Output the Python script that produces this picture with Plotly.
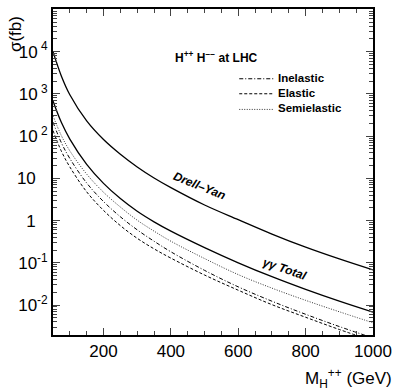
import plotly.graph_objects as go

# ---- data ----
mass = [50, 75, 100, 150, 200, 250, 300, 350, 400, 500, 600, 700, 800, 900, 1000]
drell_yan = [10000, 2630, 955, 229, 83, 37.2, 18.6, 10.2, 6.03, 2.34, 1.05, 0.479, 0.234, 0.123, 0.0676]
gg_total = [676, 209, 85.1, 21.4, 7.59, 3.31, 1.66, 0.933, 0.562, 0.229, 0.1, 0.0468, 0.0234, 0.0123, 0.00676]
semielastic = [302, 102, 44.7, 12.6, 4.68, 2.09, 1.02, 0.562, 0.324, 0.126, 0.0525, 0.0251, 0.0129, 0.00692, 0.0038]
inelastic = [214, 69.2, 29.5, 7.76, 2.82, 1.23, 0.603, 0.324, 0.182, 0.0661, 0.0269, 0.0123, 0.00603, 0.00309, 0.00166]
elastic = [135, 43.7, 18.6, 4.79, 1.74, 0.759, 0.380, 0.214, 0.129, 0.0513, 0.0224, 0.0102, 0.00513, 0.00263, 0.00141]

x_ticks = [200, 400, 600, 800, 1000]
x_ticktext = ["200", "400", "600", "800", "1000"]
y_ticks = [1e-2, 1e-1, 1, 10, 1e2, 1e3, 1e4]
y_ticktext = ["10<sup>-2</sup>", "10<sup>-1</sup>", "1\u2002\u2009", "10\u2002\u2009",
              "10<sup> 2</sup>", "10<sup> 3</sup>", "10<sup> 4</sup>"]
y_minor = [m * 10.0 ** k for k in range(-3, 5) for m in range(2, 10)]

legend_names = ["Inelastic", "Elastic", "Semielastic"]
legend_dashes = ["4px,2px,1px,2px", "3px,2px", "1px,1.5px"]
legend_colors = ["black", "black", "#333"]

FONT = "Liberation Sans, Arial, sans-serif"

fig = go.Figure()
fig.add_trace(go.Scatter(x=mass, y=drell_yan, mode="lines", line=dict(color="black", width=1.3, shape="spline"),
                         showlegend=False))
fig.add_trace(go.Scatter(x=mass, y=gg_total, mode="lines", line=dict(color="black", width=1.3, shape="spline"),
                         showlegend=False))
for series, dash, col, nm in zip([inelastic, elastic, semielastic], legend_dashes, legend_colors, legend_names):
    fig.add_trace(go.Scatter(x=mass, y=series, mode="lines", name=nm, showlegend=False,
                             line=dict(color=col, width=1, dash=dash, shape="spline")))

# manual legend (compact rows like the original)
leg_line_y = [0.786, 0.740, 0.692]
for yy, dash, col, nm in zip(leg_line_y, legend_dashes, legend_colors, legend_names):
    fig.add_shape(type="line", xref="paper", yref="paper", x0=0.582, x1=0.689, y0=yy, y1=yy,
                  line=dict(color=col, width=1, dash=dash))
    fig.add_annotation(text="<b>%s</b>" % nm, xref="paper", yref="paper", x=0.70, y=yy + 0.003,
                       xanchor="left", yanchor="middle", showarrow=False, borderpad=0,
                       font=dict(size=11.5))

fig.update_layout(
    width=399, height=391,
    margin=dict(l=53, r=20, t=7, b=56),
    paper_bgcolor="white", plot_bgcolor="white",
    font=dict(family=FONT, size=17, color="black"),
    showlegend=False,
    xaxis=dict(range=[50, 1000], tickmode="array", tickvals=x_ticks, ticktext=x_ticktext,
               ticks="inside", ticklen=7, tickwidth=1.2, showline=True, linewidth=1.8, linecolor="black",
               mirror="allticks", showgrid=False, zeroline=False,
               minor=dict(dtick=50, tick0=0, ticks="inside", ticklen=4, tickwidth=1, showgrid=False),
               tickfont=dict(size=17)),
    yaxis=dict(type="log", range=[-2.71, 5.01], tickmode="array", tickvals=y_ticks, ticktext=y_ticktext,
               ticks="inside", ticklen=7, tickwidth=1.2, showline=True, linewidth=1.8, linecolor="black",
               mirror="allticks", showgrid=False, zeroline=False,
               minor=dict(tickmode="array", tickvals=y_minor, ticks="inside", ticklen=4, tickwidth=1,
                          showgrid=False),
               tickfont=dict(size=17)),
)

fig.add_annotation(text="σ(fb)", xref="paper", yref="paper", x=-0.115, y=0.985, xanchor="center",
                   yanchor="top", textangle=-90, showarrow=False, font=dict(size=17))
fig.add_annotation(text="M<sub>H</sub><sup>++</sup> (GeV)", xref="paper", yref="paper", x=1.065, y=-0.09,
                   xanchor="right", yanchor="top", showarrow=False, font=dict(size=17))
fig.add_annotation(text="<b>H<sup>++</sup> H<sup>−−</sup> at LHC</b>", xref="paper", yref="paper",
                   x=0.51, y=0.882, showarrow=False, font=dict(size=12))
fig.add_annotation(text="<b><i>Drell–Yan</i></b>", x=486, y=0.82, xref="x", yref="y", showarrow=False,
                   textangle=22, font=dict(size=12))
fig.add_annotation(text="<b><i>γγ Total</i></b>", x=738, y=-1.15, xref="x", yref="y", showarrow=False,
                   textangle=19, font=dict(size=12))

fig.write_html("out.html")
